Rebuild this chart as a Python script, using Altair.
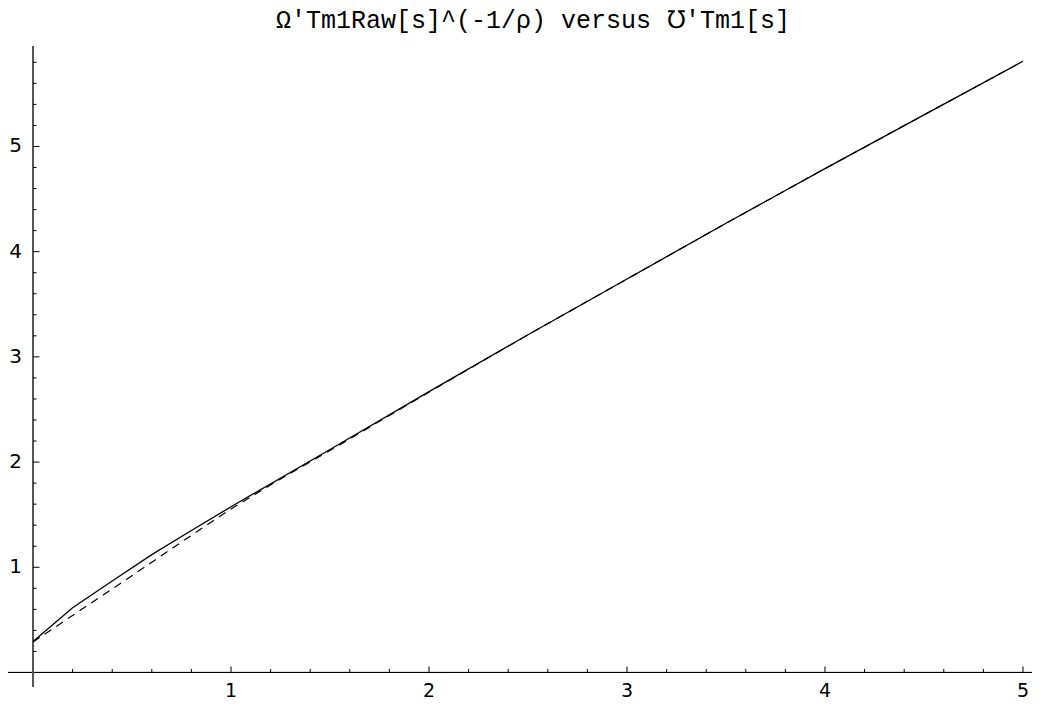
import altair as alt
import pandas as pd

# ---- data ----
solid_x = [0.0, 0.2, 0.4, 0.6, 0.8, 1.0, 1.5, 2.0, 2.5, 3.0, 3.5, 4.0, 4.5, 5.0]
solid_y = [0.295, 0.615, 0.87, 1.12, 1.35, 1.575, 2.12, 2.67, 3.21, 3.74, 4.27, 4.79, 5.30, 5.81]

dashed_x = [0.0, 0.25, 0.5, 0.75, 1.0, 1.25, 1.5, 2.0, 2.5, 3.0, 3.5, 4.0, 4.5, 5.0]
dashed_y = [0.29, 0.605, 0.92, 1.24, 1.555, 1.84, 2.11, 2.665, 3.21, 3.74, 4.27, 4.79, 5.30, 5.81]

x_major = [1, 2, 3, 4, 5]
y_major = [1, 2, 3, 4, 5]
x_minor = [round(i * 0.2, 1) for i in range(1, 25) if i % 5 != 0]
y_minor = [round(i * 0.2, 1) for i in range(1, 30) if i % 5 != 0]

title_text = "\u03a9'Tm1Raw[s]^(-1/\u03c1)  versus \u2127'Tm1[s]"

# ---- layout constants ----
X_DOMAIN = [-0.1263, 5.0455]
Y_DOMAIN = [-0.138, 5.955]
W, H = 1024, 641

xs = alt.Scale(domain=X_DOMAIN, nice=False, zero=False)
ys = alt.Scale(domain=Y_DOMAIN, nice=False, zero=False)

solid_df = pd.DataFrame({"x": solid_x, "y": solid_y})
dashed_df = pd.DataFrame({"x": dashed_x, "y": dashed_y})
xmaj_df = pd.DataFrame({"v": x_major})
ymaj_df = pd.DataFrame({"v": y_major})
xmin_df = pd.DataFrame({"v": x_minor})
ymin_df = pd.DataFrame({"v": y_minor})

# axes lines
x_axis_line = alt.Chart(xmaj_df).mark_rule(color="black", strokeWidth=1).encode(
    x=alt.datum(X_DOMAIN[0], scale=xs, axis=None),
    x2=alt.datum(X_DOMAIN[1]),
    y=alt.datum(0, scale=ys, axis=None),
)
y_axis_line = alt.Chart(ymaj_df).mark_rule(color="#555555", strokeWidth=1.2).encode(
    y=alt.datum(Y_DOMAIN[0], scale=ys, axis=None),
    y2=alt.datum(Y_DOMAIN[1]),
    x=alt.datum(0, scale=xs, axis=None),
)

# ticks
x_major_ticks = alt.Chart(xmaj_df).mark_rule(color="black", strokeWidth=1, y2Offset=-6).encode(
    x=alt.X("v:Q", scale=xs, axis=None),
    y=alt.datum(0, scale=ys, axis=None),
    y2=alt.datum(0),
)
x_minor_ticks = alt.Chart(xmin_df).mark_rule(color="black", strokeWidth=1, y2Offset=-3.5).encode(
    x=alt.X("v:Q", scale=xs, axis=None),
    y=alt.datum(0, scale=ys, axis=None),
    y2=alt.datum(0),
)
y_major_ticks = alt.Chart(ymaj_df).mark_rule(color="black", strokeWidth=1, x2Offset=6.5).encode(
    y=alt.Y("v:Q", scale=ys, axis=None),
    x=alt.datum(0, scale=xs, axis=None),
    x2=alt.datum(0),
)
y_minor_ticks = alt.Chart(ymin_df).mark_rule(color="black", strokeWidth=1, x2Offset=3.5).encode(
    y=alt.Y("v:Q", scale=ys, axis=None),
    x=alt.datum(0, scale=xs, axis=None),
    x2=alt.datum(0),
)

# tick labels
x_labels = alt.Chart(xmaj_df).mark_text(
    font="DejaVu Sans", fontSize=19, color="black", align="center", baseline="top", dy=10
).encode(
    x=alt.X("v:Q", scale=xs, axis=None),
    y=alt.datum(0, scale=ys, axis=None),
    text=alt.Text("v:Q", format="d"),
)
y_labels = alt.Chart(ymaj_df).mark_text(
    font="DejaVu Sans", fontSize=20, color="black", align="right", baseline="middle", dx=-11
).encode(
    y=alt.Y("v:Q", scale=ys, axis=None),
    x=alt.datum(0, scale=xs, axis=None),
    text=alt.Text("v:Q", format="d"),
)

# data lines
dashed_line = alt.Chart(dashed_df).mark_line(
    color="black", strokeWidth=1.2, strokeDash=[8, 6]
).encode(
    x=alt.X("x:Q", scale=xs, axis=None),
    y=alt.Y("y:Q", scale=ys, axis=None),
    order="x:Q",
)
solid_line = alt.Chart(solid_df).mark_line(color="black", strokeWidth=1.3).encode(
    x=alt.X("x:Q", scale=xs, axis=None),
    y=alt.Y("y:Q", scale=ys, axis=None),
    order="x:Q",
)

chart = alt.layer(
    x_axis_line, y_axis_line,
    x_minor_ticks, x_major_ticks, y_minor_ticks, y_major_ticks,
    x_labels, y_labels,
    dashed_line, solid_line,
).properties(
    width=W,
    height=H,
    padding={"left": 0, "right": 0, "top": 38, "bottom": 15},
    autosize=alt.AutoSizeParams(type="none"),
    title=alt.TitleParams(
        text=title_text,
        font="Liberation Mono",
        fontSize=25,
        fontWeight="normal",
        color="black",
        anchor="middle",
        offset=12,
        dx=13,
    ),
).configure(
    background="white",
    view=alt.ViewConfig(stroke=None),
)

chart.save("out.html", embed_options={"renderer": "svg", "actions": False})
